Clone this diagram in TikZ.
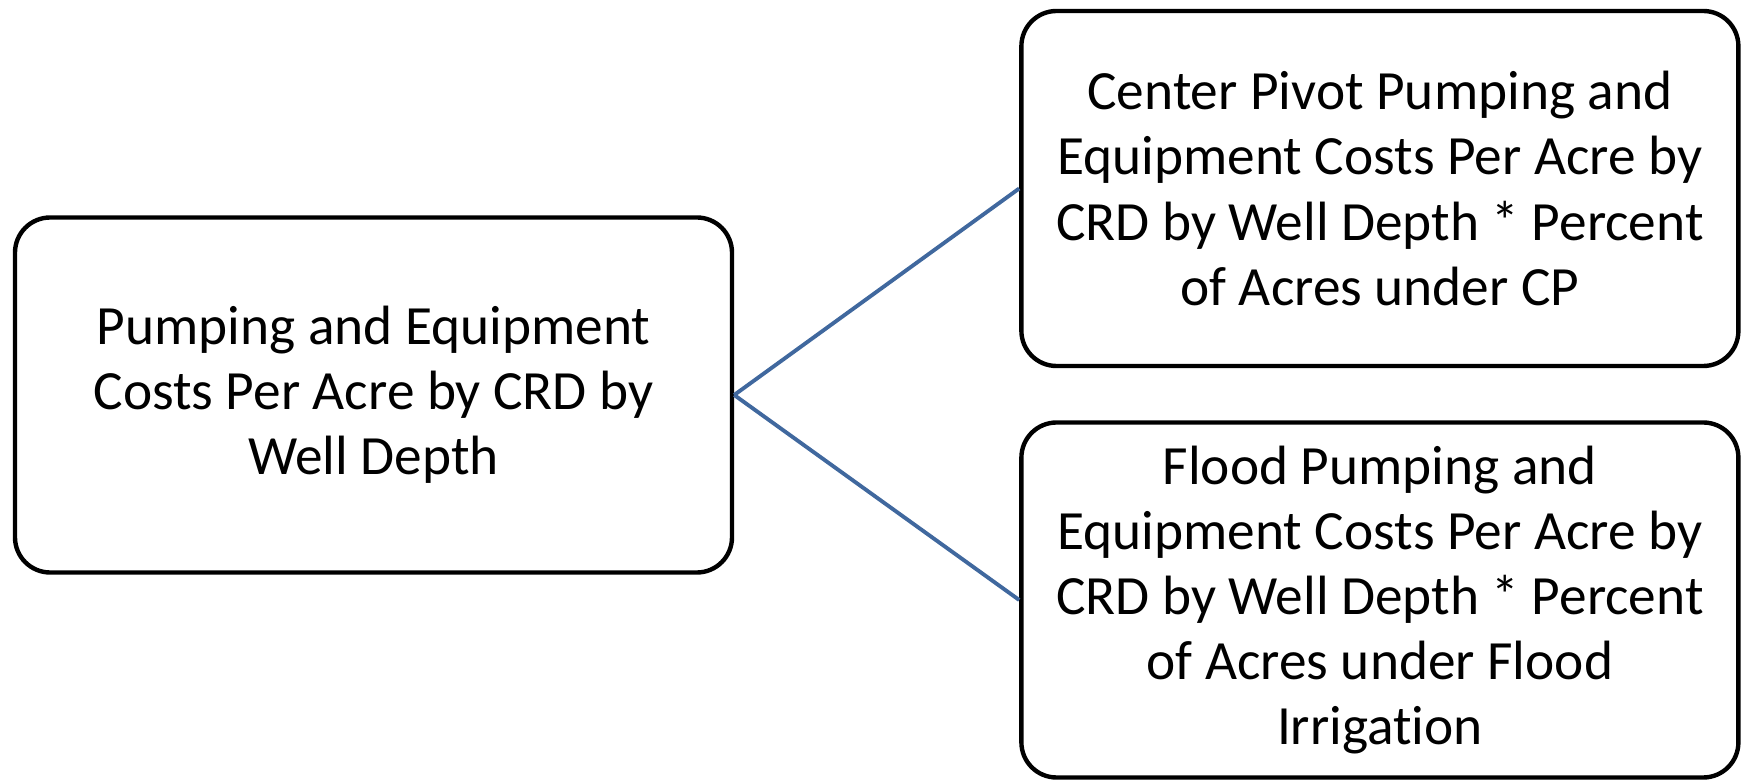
\documentclass[tikz,border=0pt]{standalone}
\usepackage{fontspec}
\setmainfont{Carlito}[Ligatures=NoCommon]
\usetikzlibrary{positioning}
\definecolor{linkblue}{RGB}{64,104,158}

\begin{document}
\begin{tikzpicture}[
    font=\fontsize{31.5}{37}\selectfont,
    % Styles
    costbox/.style={
        draw, line width=2.5pt, rounded corners=20pt, align=center,
        minimum width=14.34cm, minimum height=7.1cm, inner sep=0pt
    },
    link/.style={linkblue, line width=2.2pt}
]
    \useasboundingbox (0,0) rectangle (34.86,-15.6);

    % --- Left: total costs ---
    \node[costbox] (pump) at (7.47,-7.9) {
        Pumping and Equipment\\
        Costs Per Acre by CRD by\\
        Well Depth
    };

    % --- Right: split by irrigation type ---
    \node[costbox, right=5.7cm of pump, yshift=4.13cm] (pivot) {
        Center Pivot Pumping and\\
        Equipment Costs Per Acre by\\
        CRD by Well Depth * Percent\\
        of Acres under CP
    };

    \node[costbox, right=5.7cm of pump, yshift=-4.1cm] (flood) {
        Flood Pumping and\\
        Equipment Costs Per Acre by\\
        CRD by Well Depth * Percent\\
        of Acres under Flood\\
        Irrigation
    };

    % --- Connections ---
    \draw[link] (pump.east) -- (pivot.west);
    \draw[link] (pump.east) -- (flood.west);

\end{tikzpicture}
\end{document}
